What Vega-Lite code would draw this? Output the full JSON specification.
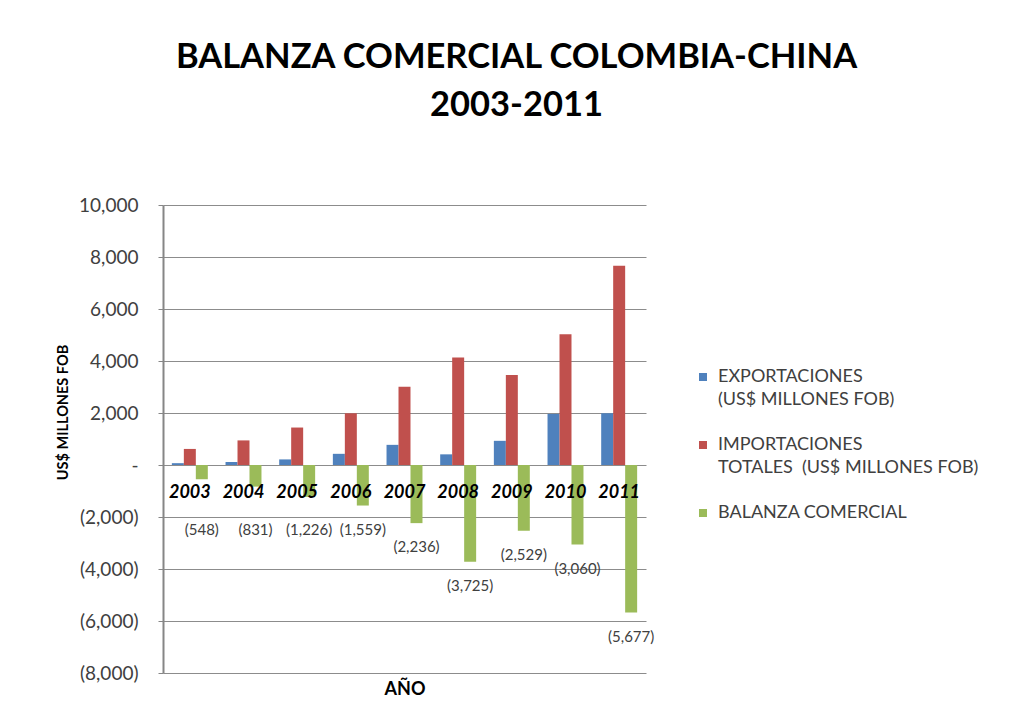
{
  "$schema": "https://vega.github.io/schema/vega-lite/v6.json",
  "width": 483,
  "height": 468,
  "autosize": {"type": "none"},
  "padding": {"left": 163, "top": 205, "right": 366, "bottom": 52},
  "background": "white",
  "config": {
    "font": "Lato",
    "view": {"stroke": null},
    "axis": {"labelFont": "Lato", "titleFont": "Lato"},
    "legend": {"labelFont": "Lato"},
    "style": {"guide-label": {"lineHeight": 23}}
  },
  "title": {
    "text": ["BALANZA COMERCIAL COLOMBIA-CHINA", "2003-2011"],
    "fontSize": 34.5,
    "fontWeight": "bold",
    "font": "Lato",
    "color": "#000000",
    "lineHeight": 48,
    "anchor": "middle",
    "dx": 112,
    "offset": 73
  },
  "data": {
    "values": [
      {"anio": "2003", "serie": "EXPORTACIONES (US$ MILLONES FOB)", "valor": 70},
      {"anio": "2003", "serie": "IMPORTACIONES TOTALES (US$ MILLONES FOB)", "valor": 618},
      {"anio": "2003", "serie": "BALANZA COMERCIAL", "valor": -548},
      {"anio": "2004", "serie": "EXPORTACIONES (US$ MILLONES FOB)", "valor": 115},
      {"anio": "2004", "serie": "IMPORTACIONES TOTALES (US$ MILLONES FOB)", "valor": 946},
      {"anio": "2004", "serie": "BALANZA COMERCIAL", "valor": -831},
      {"anio": "2005", "serie": "EXPORTACIONES (US$ MILLONES FOB)", "valor": 215},
      {"anio": "2005", "serie": "IMPORTACIONES TOTALES (US$ MILLONES FOB)", "valor": 1441},
      {"anio": "2005", "serie": "BALANZA COMERCIAL", "valor": -1226},
      {"anio": "2006", "serie": "EXPORTACIONES (US$ MILLONES FOB)", "valor": 430},
      {"anio": "2006", "serie": "IMPORTACIONES TOTALES (US$ MILLONES FOB)", "valor": 1989},
      {"anio": "2006", "serie": "BALANZA COMERCIAL", "valor": -1559},
      {"anio": "2007", "serie": "EXPORTACIONES (US$ MILLONES FOB)", "valor": 775},
      {"anio": "2007", "serie": "IMPORTACIONES TOTALES (US$ MILLONES FOB)", "valor": 3011},
      {"anio": "2007", "serie": "BALANZA COMERCIAL", "valor": -2236},
      {"anio": "2008", "serie": "EXPORTACIONES (US$ MILLONES FOB)", "valor": 410},
      {"anio": "2008", "serie": "IMPORTACIONES TOTALES (US$ MILLONES FOB)", "valor": 4135},
      {"anio": "2008", "serie": "BALANZA COMERCIAL", "valor": -3725},
      {"anio": "2009", "serie": "EXPORTACIONES (US$ MILLONES FOB)", "valor": 930},
      {"anio": "2009", "serie": "IMPORTACIONES TOTALES (US$ MILLONES FOB)", "valor": 3459},
      {"anio": "2009", "serie": "BALANZA COMERCIAL", "valor": -2529},
      {"anio": "2010", "serie": "EXPORTACIONES (US$ MILLONES FOB)", "valor": 1965},
      {"anio": "2010", "serie": "IMPORTACIONES TOTALES (US$ MILLONES FOB)", "valor": 5025},
      {"anio": "2010", "serie": "BALANZA COMERCIAL", "valor": -3060},
      {"anio": "2011", "serie": "EXPORTACIONES (US$ MILLONES FOB)", "valor": 1990},
      {"anio": "2011", "serie": "IMPORTACIONES TOTALES (US$ MILLONES FOB)", "valor": 7667},
      {"anio": "2011", "serie": "BALANZA COMERCIAL", "valor": -5677}
    ]
  },
  "encoding": {
    "x": {
      "field": "anio",
      "type": "nominal",
      "scale": {"paddingInner": 0.33, "paddingOuter": 0.165},
      "axis": {
        "labels": false,
        "ticks": false,
        "domain": false,
        "title": "AÑO",
        "titleFontSize": 18,
        "titleFontWeight": "bold",
        "titleColor": "#000000",
        "titlePadding": 7
      }
    }
  },
  "layer": [
    {
      "mark": {"type": "bar"},
      "encoding": {
        "xOffset": {
          "field": "serie",
          "type": "nominal",
          "scale": {
            "domain": ["EXPORTACIONES (US$ MILLONES FOB)", "IMPORTACIONES TOTALES (US$ MILLONES FOB)", "BALANZA COMERCIAL"],
            "paddingInner": 0,
            "paddingOuter": 0
          }
        },
        "y": {
          "field": "valor",
          "type": "quantitative",
          "scale": {"domain": [-8000, 10000], "nice": false},
          "axis": {
            "values": [-8000, -6000, -4000, -2000, 0, 2000, 4000, 6000, 8000, 10000],
            "labelExpr": "datum.value === 0 ? '-' : format(datum.value, '(,')",
            "labelFontSize": 19,
            "labelColor": "#404040",
            "labelPadding": 20,
            "tickSize": 5,
            "tickColor": "#868686",
            "domainColor": "#868686",
            "domainWidth": 2,
            "grid": true,
            "gridColor": "#8c8c8c",
            "gridWidth": 1,
            "title": "US$ MILLONES FOB",
            "titleFontSize": 14.5,
            "titleFontWeight": "bold",
            "titleColor": "#000000",
            "titlePadding": 8,
            "titleY": 207
          }
        },
        "color": {
          "field": "serie",
          "type": "nominal",
          "scale": {
            "domain": ["EXPORTACIONES (US$ MILLONES FOB)", "IMPORTACIONES TOTALES (US$ MILLONES FOB)", "BALANZA COMERCIAL"],
            "range": ["#4F81BD", "#C0504D", "#9BBB59"]
          },
          "legend": {
            "orient": "none",
            "legendX": 531,
            "legendY": 163,
            "title": null,
            "symbolType": "square",
            "symbolSize": 64,
            "symbolStrokeWidth": 0,
            "labelFontSize": 18,
            "labelColor": "#404040",
            "labelOffset": 6,
            "labelLimit": 400,
            "rowPadding": 27,
            "padding": 0,
            "labelExpr": "datum.label == 'EXPORTACIONES (US$ MILLONES FOB)' ? ['EXPORTACIONES', '\u00a0(US$ MILLONES FOB)'] : datum.label == 'IMPORTACIONES TOTALES (US$ MILLONES FOB)' ? ['IMPORTACIONES', '\u00a0TOTALES\u00a0 (US$ MILLONES FOB)'] : datum.label"
          }
        }
      }
    },
    {
      "transform": [{"filter": "datum.serie == 'BALANZA COMERCIAL' && datum.anio >= '2007'"}],
      "mark": {"type": "text", "dy": 24, "baseline": "middle", "fontSize": 15, "color": "#404040"},
      "encoding": {
        "xOffset": {"field": "serie", "type": "nominal"},
        "y": {"field": "valor", "type": "quantitative"},
        "text": {"field": "valor", "type": "quantitative", "format": "(,.0f"}
      }
    },
    {
      "transform": [{"filter": "datum.serie == 'BALANZA COMERCIAL' && datum.anio < '2007'"}],
      "mark": {"type": "text", "baseline": "middle", "fontSize": 15, "color": "#404040"},
      "encoding": {
        "xOffset": {"field": "serie", "type": "nominal"},
        "y": {"datum": -2500, "type": "quantitative"},
        "text": {"field": "valor", "type": "quantitative", "format": "(,.0f"}
      }
    },
    {
      "transform": [{"filter": "datum.serie == 'IMPORTACIONES TOTALES (US$ MILLONES FOB)'"}],
      "mark": {"type": "text", "dy": 28, "baseline": "middle", "fontSize": 18, "fontWeight": "bold", "fontStyle": "italic", "color": "#000000"},
      "encoding": {
        "y": {"datum": 0, "type": "quantitative"},
        "text": {"field": "anio", "type": "nominal"}
      }
    }
  ]
}
